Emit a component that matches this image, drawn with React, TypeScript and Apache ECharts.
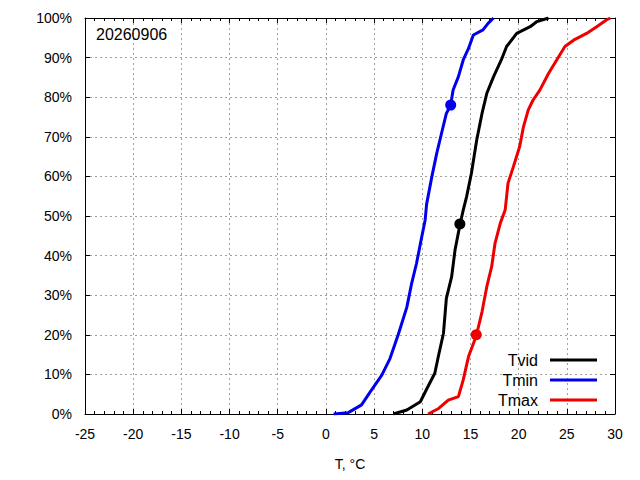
import React, { useEffect, useRef } from "react";
import * as echarts from "echarts";

const xTicks = { min: -25, max: 30, interval: 5 };
const seriesNames = ["Tvid", "Tmin", "Tmax"];
const seriesColors = ["#000000", "#0000ee", "#ee0000"];

const tvid: number[][] = [
  [7.0, 0], [8.4, 1], [9.8, 3.1], [10.5, 6.5], [11.3, 10.3], [11.7, 14.9], [12.2, 20.4],
  [12.5, 29.2], [13.05, 34.7], [13.4, 41.4], [13.9, 47.7], [14.25, 51.5], [14.6, 54.9],
  [15.1, 60.8], [15.65, 69.2], [16.2, 75.9], [16.7, 81], [17.4, 85.2], [18.2, 89.4],
  [18.75, 92.8], [19.8, 96.1], [21.2, 97.8], [21.9, 99.1], [23.1, 100],
];
const tmin: number[][] = [
  [0.8, 0], [2.3, 0.3], [2.5, 0.6], [3.7, 2.3], [4.6, 5.6], [5.8, 9.8], [6.65, 14], [7.5, 20],
  [8.4, 27], [8.9, 33], [9.4, 38], [9.95, 44.8], [10.3, 49], [10.45, 53], [11.0, 60],
  [11.5, 65.8], [12.0, 70.9], [12.5, 75.9], [12.95, 78], [13.2, 81.8], [13.75, 85.2],
  [14.25, 89.4], [14.8, 92.3], [15.3, 95.7], [16.3, 97], [16.85, 98.7], [17.4, 100],
];
const tmax: number[][] = [
  [10.6, 0], [11.7, 1.4], [12.7, 3.5], [13.75, 4.4], [14.25, 8.6], [14.8, 14.5], [15.6, 19.7],
  [16.2, 25.8], [16.7, 32.2], [17.2, 37.2], [17.55, 43.1], [18.1, 48.2], [18.6, 51.5],
  [18.9, 58.3], [19.45, 62.4], [20.1, 67.5], [20.5, 72.5], [21.0, 76.8], [21.5, 79.3],
  [22.2, 81.8], [23.1, 86], [23.95, 89.4], [24.8, 92.8], [25.7, 94.4], [27.05, 96.1],
  [28.1, 97.8], [29.1, 99.5], [29.5, 100],
];
const markers: number[][][] = [
  [[13.9, 48]],
  [[12.95, 78]],
  [[15.6, 20]],
];
const dateLabel = "20260906";
const xName = "T, °C";

const FONT = "Liberation Sans, Arial, sans-serif";

export default function App() {
  const ref = useRef<HTMLDivElement>(null);
  useEffect(() => {
    if (!ref.current) return;
    const chart = echarts.init(ref.current, undefined, { renderer: "svg" });
    const gridLine = { show: true, lineStyle: { color: "#a0a0a0", type: [2, 3] as any, width: 1 } };
    const axisLine = { show: true, onZero: false, lineStyle: { color: "#000", width: 1 } };
    const dataSets = [tvid, tmin, tmax];
    const lineSeries = dataSets.map((d, i) => ({
      name: seriesNames[i],
      type: "line",
      data: d,
      showSymbol: false,
      symbol: "none",
      lineStyle: { color: seriesColors[i], width: 3 },
      itemStyle: { color: seriesColors[i] },
      z: 3,
    }));
    const dotSeries = markers.map((d, i) => ({
      name: seriesNames[i] + "_pt",
      type: "scatter",
      data: d,
      symbolSize: 11,
      itemStyle: { color: seriesColors[i], opacity: 1 },
      z: 4,
    }));
    chart.setOption({
      animation: false,
      backgroundColor: "#fff",
      textStyle: { fontFamily: FONT },
      grid: { left: 85, right: 25, top: 18, bottom: 66 },
      legend: {
        data: seriesNames.map((n, i) => ({ name: n, icon: "rect", itemStyle: { color: seriesColors[i] } })),
        orient: "vertical",
        align: "right",
        right: 43,
        top: 352,
        padding: 0,
        itemWidth: 47,
        itemHeight: 3,
        itemGap: 4,
        textStyle: { fontSize: 16, color: "#000", fontFamily: FONT, padding: [0, 7, 0, 0] },
      },
      graphic: [
        {
          type: "text",
          left: 96,
          top: 26,
          style: { text: dateLabel, fontSize: 16, fill: "#000", fontFamily: FONT },
          z: 10,
        },
      ],
      xAxis: [
        {
          type: "value",
          min: xTicks.min,
          max: xTicks.max,
          interval: xTicks.interval,
          position: "bottom",
          name: xName,
          nameLocation: "middle",
          nameGap: 43,
          nameTextStyle: { fontSize: 14, color: "#000", fontFamily: FONT },
          axisLine,
          axisTick: { show: true, inside: true, length: 5, lineStyle: { color: "#000" } },
          minorTick: { show: true, splitNumber: 5, length: 3, lineStyle: { color: "#000" } },
          axisLabel: { fontSize: 14, color: "#000", margin: 13, fontFamily: FONT },
          splitLine: gridLine,
        },
        {
          type: "value",
          min: xTicks.min,
          max: xTicks.max,
          interval: xTicks.interval,
          position: "top",
          axisLine,
          axisTick: { show: true, inside: true, length: 5, lineStyle: { color: "#000" } },
          minorTick: { show: true, splitNumber: 5, length: 3, lineStyle: { color: "#000" } },
          axisLabel: { show: false },
          splitLine: { show: false },
        },
      ],
      yAxis: [
        {
          type: "value",
          min: 0,
          max: 100,
          interval: 10,
          position: "left",
          axisLine,
          axisTick: { show: true, inside: true, length: 5, lineStyle: { color: "#000" } },
          axisLabel: { fontSize: 14, color: "#000", margin: 13, formatter: "{value}%", fontFamily: FONT },
          splitLine: gridLine,
        },
        {
          type: "value",
          min: 0,
          max: 100,
          interval: 10,
          position: "right",
          axisLine,
          axisTick: { show: true, inside: true, length: 5, lineStyle: { color: "#000" } },
          axisLabel: { show: false },
          splitLine: { show: false },
        },
      ],
      series: [...lineSeries, ...dotSeries],
    });
    return () => chart.dispose();
  }, []);
  return (
    <div
      ref={ref}
      style={{ position: "fixed", left: 0, top: 0, width: 640, height: 480, background: "#fff" }}
    />
  );
}
